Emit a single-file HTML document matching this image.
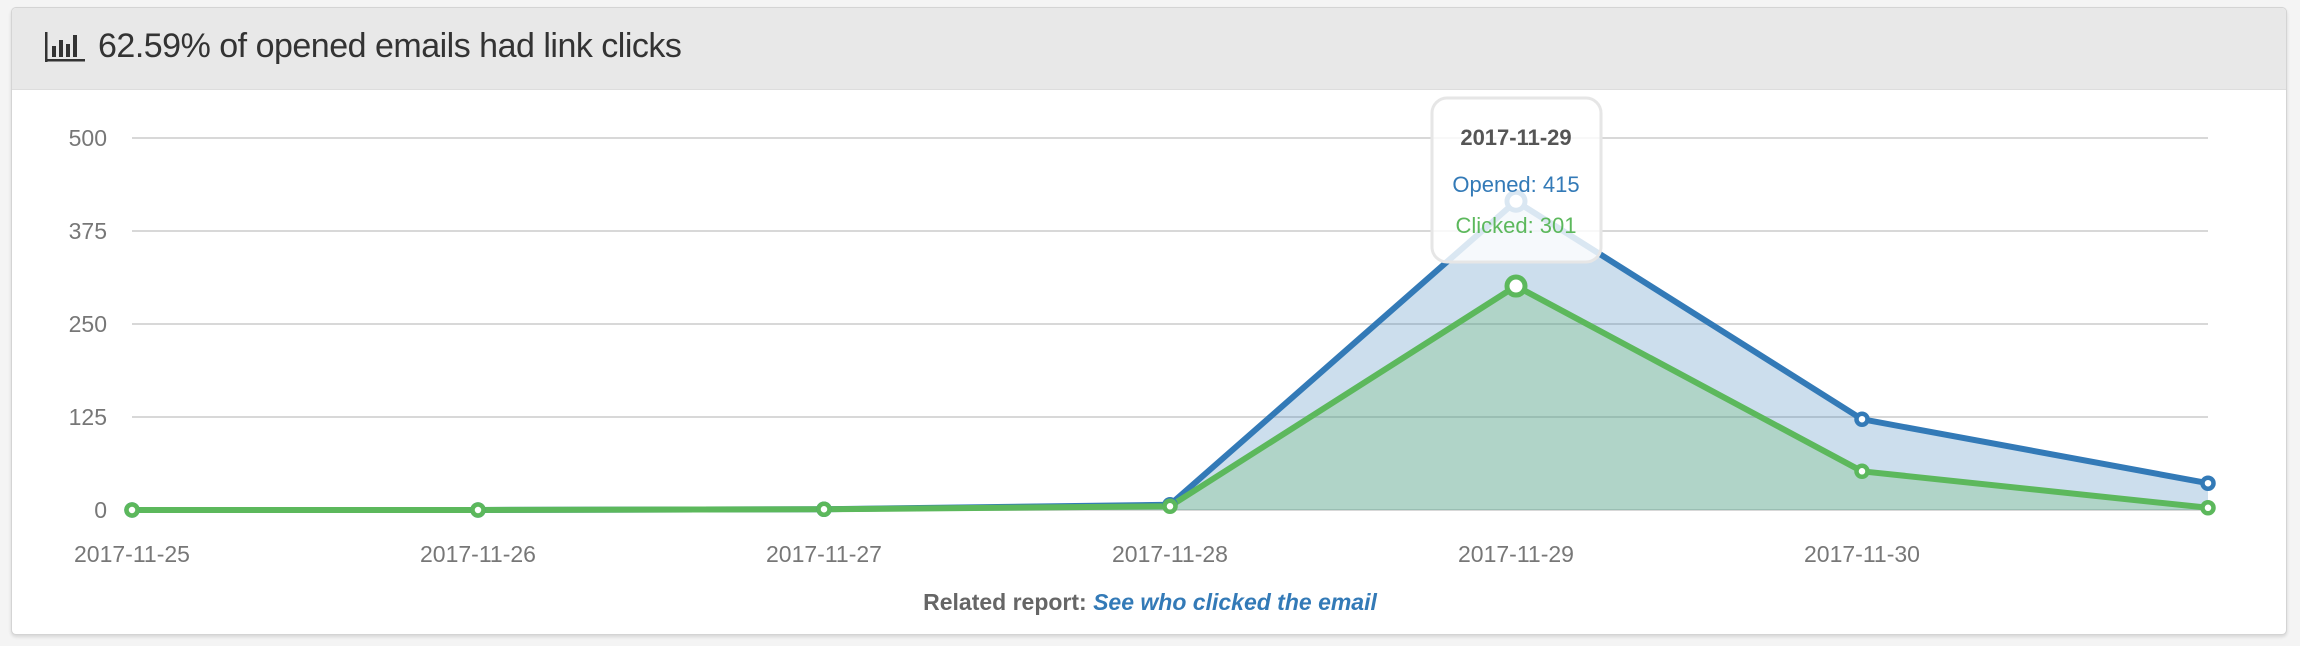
<!DOCTYPE html>
<html><head><meta charset="utf-8"><style>
html,body{margin:0;padding:0;width:2300px;height:646px;background:#f4f4f4;overflow:hidden;font-family:"Liberation Sans",sans-serif}
#panel{position:absolute;left:11px;top:7px;width:2274px;height:626px;background:#fff;border:1px solid #d4d4d4;border-radius:5px;box-shadow:0 2px 3px rgba(0,0,0,.12);overflow:hidden}
#hdr{position:absolute;left:0;top:0;width:100%;height:81px;background:#e8e8e8;border-bottom:1px solid #ddd}
#title{position:absolute;left:86px;top:19px;font-size:34px;color:#333;letter-spacing:-0.5px;white-space:nowrap}
svg{position:absolute;left:0;top:0}
</style></head><body>
<div id="panel">
<div id="hdr">
<svg width="60" height="60" style="left:32px;top:14px"><g fill="#333"><rect x="1" y="10" width="2.5" height="30"/><rect x="1" y="37" width="40" height="2.5"/><rect x="8" y="24" width="4" height="11"/><rect x="15" y="18" width="4" height="17"/><rect x="22" y="22" width="4" height="13"/><rect x="29" y="13" width="4" height="22"/></g></svg>
<div id="title">62.59% of opened emails had link clicks</div>
</div>
</div>
<svg id="chart" width="2300" height="646"></svg>
<script>
const categories=["2017-11-25","2017-11-26","2017-11-27","2017-11-28","2017-11-29","2017-11-30","2017-12-01"];
const opened=[0,0,1,7,415,122,36];
const clicked=[0,0,1,5,301,52,3];
const yTicks=[0,125,250,375,500];
const NS="http://www.w3.org/2000/svg";
const svg=document.getElementById('chart');
const x0=132,x1=2208,yBase=510,yTop=138,yMax=500;
const X=i=>x0+i*(x1-x0)/(categories.length-1);
const Y=v=>yBase-v*(yBase-yTop)/yMax;
function mk(t,a,p){const e=document.createElementNS(NS,t);for(const k in a)e.setAttribute(k,a[k]);(p||svg).appendChild(e);return e;}
yTicks.forEach(v=>{
 const l=mk('line',{x1:x0,x2:x1,y1:Y(v),y2:Y(v),stroke:'#d8d8d8','stroke-width':2});
 
 
 const t=mk('text',{x:107,y:Y(v)+8,'text-anchor':'end','font-size':23,fill:'#777','font-family':'Liberation Sans'});
 t.textContent=v;
 
 
});
categories.forEach((c,i)=>{
 if(i===categories.length-1)return;
 const t=mk('text',{x:X(i),y:562,'text-anchor':'middle','font-size':23,fill:'#777','font-family':'Liberation Sans'});
 t.textContent=c;
 
 
});
function series(vals,color,fill,name){
 const pts=vals.map((v,i)=>X(i)+','+Y(v)).join(' ');
 const a=mk('polygon',{points:X(0)+','+yBase+' '+pts+' '+X(vals.length-1)+','+yBase,fill:fill});
 
 
 const l=mk('polyline',{points:pts,fill:'none',stroke:color,'stroke-width':6,'stroke-linejoin':'round'});
 
 
}
function markers(vals,color,name){
 vals.forEach((v,i)=>{
  const big=i===4;
  const c=mk('circle',{cx:X(i),cy:Y(v),r:big?9:5.5,fill:'#fff',stroke:color,'stroke-width':big?5:4.5});
  
  
 });
}
series(opened,'#337ab7','rgba(51,122,183,0.25)','opened');
series(clicked,'#5cb85c','rgba(92,184,92,0.25)','clicked');
markers(opened,'#337ab7','opened');
markers(clicked,'#5cb85c','clicked');
const tx=X(4);
const g=mk('g',{});


mk('rect',{x:tx-84,y:98,width:169,height:164,rx:15,fill:'rgba(255,255,255,0.82)',stroke:'#e6e6e6','stroke-width':3},g);
const t1=mk('text',{x:tx,y:145,'text-anchor':'middle','font-size':22,'font-weight':'bold',fill:'#555'},g);t1.textContent=categories[4];
const t2=mk('text',{x:tx,y:192,'text-anchor':'middle','font-size':22,fill:'#337ab7'},g);t2.textContent='Opened: '+opened[4];
const t3=mk('text',{x:tx,y:233,'text-anchor':'middle','font-size':22,fill:'#5cb85c'},g);t3.textContent='Clicked: '+clicked[4];
const f=mk('text',{x:1150,y:610,'text-anchor':'middle','font-size':23,'font-weight':'bold',fill:'#666'});


f.appendChild(document.createTextNode('Related report: '));
const ts=document.createElementNS(NS,'tspan');ts.setAttribute('fill','#337ab7');ts.setAttribute('font-style','italic');ts.textContent='See who clicked the email';


f.appendChild(ts);
</script>
</body></html>
